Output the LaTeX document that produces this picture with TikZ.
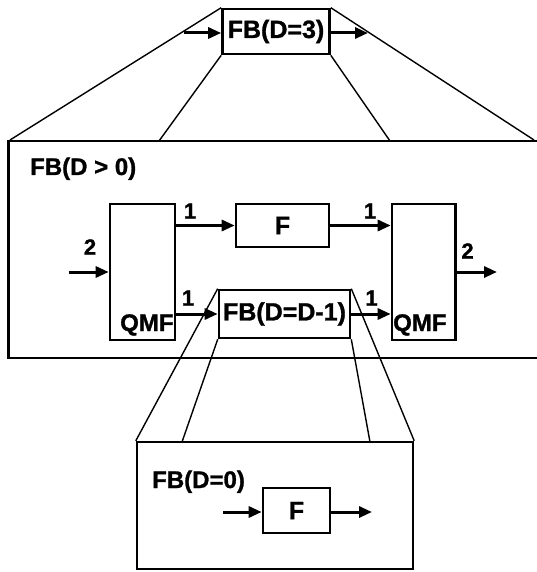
\documentclass[tikz,border=0pt]{standalone}
\usepackage{fontspec}
\setmainfont{Liberation Sans}[BoldFeatures={FakeBold=1.2}]
\usetikzlibrary{arrows.meta, positioning}
\tikzset{
  box/.style={rectangle,draw,line width=2.6pt,inner sep=0pt,align=center,font=\bfseries\fontsize{25}{29}\selectfont},
  frame/.style={rectangle,draw,line width=2.4pt},
  title/.style={inner sep=0pt,font=\bfseries\fontsize{24}{28}\selectfont},
  num/.style={inner sep=0pt,font=\bfseries\fontsize{22}{26}\selectfont},
  line/.style={line width=3pt,-{Triangle[length=13pt,width=11pt]}},
  zoom/.style={line width=1.4pt}
}

\begin{document}
\begin{tikzpicture}[x=1pt,y=-1pt]
\useasboundingbox (0,0) rectangle (537,572);

% level D=3
\node[box, minimum width=107, minimum height=45] (fb3) at (276,31.5) {FB(D=3)};
\coordinate (in3) at (184,33);
\coordinate (out3) at (368,33);
\draw[line] (in3) -- (in3 -| fb3.west);
\draw[line] (out3 -| fb3.east) -- (out3);

% level D>0
\coordinate (bigNW) at (8.6,141);
\coordinate (bigNE) at (537,141);
\coordinate (bigSW) at (8.6,358);
\coordinate (bigSE) at (537,358);
\draw[line width=2.4pt] (bigNE) -- (bigNW) -- (bigSW) -- (bigSE);
\node[title, anchor=base west] (ttl) at (30,175) {FB(D > 0)};

\node[box, minimum width=65, minimum height=136] (qmfL) at (142.5,272) {};
\node[box, minimum width=63.5, minimum height=136] (qmfR) at (423.75,272) {};
\node[title, anchor=base west] (qmfLtxt) at (120,331) {QMF};
\node[title, anchor=base west] (qmfRtxt) at (393,331) {QMF};
\node[box, minimum width=93, minimum height=43] (f) at (282.5,225.5) {F};
\node[box, minimum width=131, minimum height=48] (sub) at (284.5,314) {FB(D=D-1)};

\coordinate (in2) at (68.5,272);
\coordinate (out2) at (497,272);
\draw[line] (in2) -- (qmfL.west);
\draw[line] (qmfR.east) -- (out2);
\draw[line] (f.west -| qmfL.east) -- (f.west);
\draw[line] (f.east) -- (f.east -| qmfR.west);
\draw[line] (sub.west -| qmfL.east) -- (sub.west);
\draw[line] (sub.east) -- (sub.east -| qmfR.west);

\node[num] (nin) at (90,247) {2};
\node[num] (nout) at (467.5,251) {2};
\node[num] (nfa) at (190,211) {1};
\node[num] (nfb) at (370,211) {1};
\node[num] (nsa) at (188,298) {1};
\node[num] (nsb) at (371.6,298) {1};

% zoom lines D=3 -> D>0
\draw[zoom] (fb3.north west) -- (10,140);
\draw[zoom] (fb3.south west) -- (159,141);
\draw[zoom] (fb3.south east) -- (390,141);
\draw[zoom] (fb3.north east) -- (534,140);

% level D=0
\node[frame, minimum width=276, minimum height=127] (fb0) at (275,505.5) {};
\node[title, anchor=base west] (ttl0) at (152,488) {FB(D=0)};
\node[box, minimum width=67, minimum height=45] (f0) at (296.5,510.5) {F};
\coordinate (in0) at (223,512);
\coordinate (out0) at (372,512);
\draw[line] (in0) -- (in0 -| f0.west);
\draw[line] (out0 -| f0.east) -- (out0);

% zoom lines D=D-1 -> D=0
\draw[zoom] (sub.north west) -- (fb0.north west);
\draw[zoom] (sub.south west) -- (182,442);
\draw[zoom] (sub.south east) -- (370,442);
\draw[zoom] (sub.north east) -- (fb0.north east);
\end{tikzpicture}
\end{document}
